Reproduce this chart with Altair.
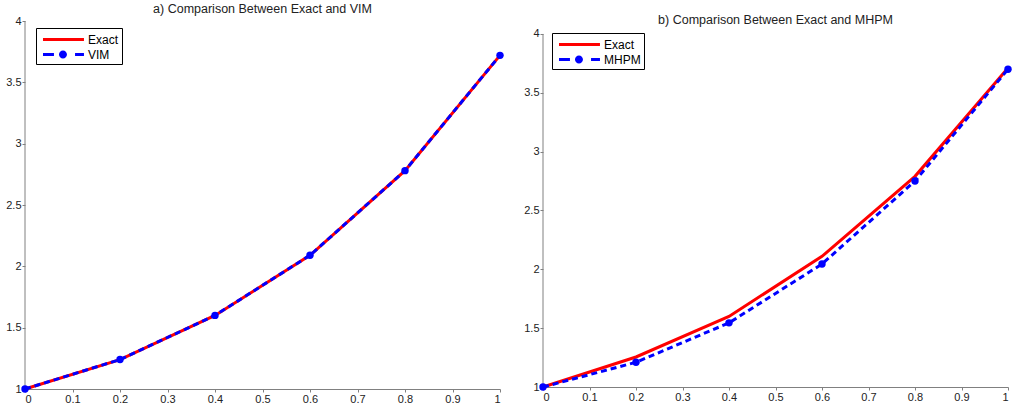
import altair as alt
import pandas as pd

# ---- data ----
x_vals = [0.0, 0.2, 0.4, 0.6, 0.8, 1.0]
exact_a = [1.00, 1.24, 1.60, 2.09, 2.78, 3.72]
vim = [1.00, 1.24, 1.60, 2.09, 2.78, 3.72]
exact_b = [1.00, 1.255, 1.60, 2.11, 2.79, 3.71]
mhpm = [1.00, 1.21, 1.545, 2.045, 2.75, 3.70]

x_ticks = [0, 0.1, 0.2, 0.3, 0.4, 0.5, 0.6, 0.7, 0.8, 0.9, 1]
y_ticks = [1, 1.5, 2, 2.5, 3, 3.5, 4]
y_axis_span = [1, 4]

FONT = "Liberation Sans"
AXIS_GRAY = "#808080"

# legend glyphs (unit coordinates, scaled by the legend symbol size)
SOLID = "M-0.53,-0.18L4.29,-0.18L4.29,0.18L-0.53,0.18Z"
DASHDOT = ("M-0.53,-0.18L0.76,-0.18L0.76,0.18L-0.53,0.18Z "
           "M3.24,-0.18L4.29,-0.18L4.29,0.18L3.24,0.18Z "
           "M2.29,0A0.47,0.47,0,1,1,1.35,0A0.47,0.47,0,1,1,2.29,0Z")


def panel(exact, approx, name, title_text, width, height, ymax, lx, ly, title_offset):
    df = pd.DataFrame({
        "x": x_vals + x_vals,
        "y": exact + approx,
        "series": ["Exact"] * len(x_vals) + [name] * len(x_vals),
    })
    domain = ["Exact", name]
    leg = alt.Legend(title=None, orient="none", legendX=lx, legendY=ly,
                     fillColor="white", strokeColor="black", padding=3,
                     rowPadding=0, symbolSize=289, labelOffset=32,
                     labelFontSize=12, labelColor="black", labelFont=FONT,
                     symbolStrokeWidth=0)
    color = alt.Color("series:N", scale=alt.Scale(domain=domain, range=["#ff0000", "#0000ff"]), legend=leg)
    shape = alt.Shape("series:N", scale=alt.Scale(domain=domain, range=[SOLID, DASHDOT]), legend=leg)
    xenc = alt.X("x:Q", scale=alt.Scale(domain=[0, 1], nice=False, zero=False),
                 axis=alt.Axis(values=x_ticks, format="~g", title=None, grid=False))
    yenc = alt.Y("y:Q", scale=alt.Scale(domain=[1, ymax], nice=False, zero=False),
                 axis=alt.Axis(values=y_ticks, format="~g", title=None, grid=False, domain=False))

    base = alt.Chart(df)
    legend_layer = base.transform_filter("false").mark_point(filled=True, opacity=1).encode(
        x=xenc, y=yenc, color=color, shape=shape)
    yaxis_line = alt.Chart(pd.DataFrame({"x": [0], "y": [y_axis_span[0]], "y2": [y_axis_span[1]]})).mark_rule(
        color=AXIS_GRAY, strokeWidth=1).encode(x=xenc, y=yenc, y2="y2:Q")
    line_exact = base.transform_filter(alt.datum.series == "Exact").mark_line(strokeWidth=3).encode(
        x=xenc, y=yenc, color=color)
    line_approx = base.transform_filter(alt.datum.series == name).mark_line(
        strokeWidth=3, strokeDash=[6, 4]).encode(x=xenc, y=yenc, color=color)
    pts = base.transform_filter(alt.datum.series == name).mark_point(
        filled=True, size=55, opacity=1).encode(x=xenc, y=yenc, color=color)

    return alt.layer(legend_layer, yaxis_line, line_exact, line_approx, pts).properties(
        width=width, height=height,
        title=alt.TitleParams(text=title_text, fontSize=12.5, font=FONT, fontWeight="normal",
                              color="#222222", offset=title_offset, anchor="middle"),
    )


left = panel(exact_a, vim, "VIM", "a) Comparison Between Exact and VIM",
             475, 368, 4.0, 11, 7, 0)
right = panel(exact_b, mhpm, "MHPM", "b) Comparison Between Exact and MHPM",
              465, 366, 4.11, 9, 12, -5)

chart = alt.hconcat(left, right, spacing=16).resolve_scale(
    color="independent", shape="independent"
).properties(
    padding={"left": 5, "top": 2, "right": 0, "bottom": 0},
    background="white",
).configure(font=FONT).configure_view(stroke="transparent").configure_axis(
    grid=False, domainColor=AXIS_GRAY, tickColor=AXIS_GRAY, labelColor="#222222",
    labelFont=FONT, labelFontSize=11, tickSize=3, labelPadding=1, domainWidth=1,
)

chart.save("out.html", embed_options={"renderer": "svg", "actions": False})
